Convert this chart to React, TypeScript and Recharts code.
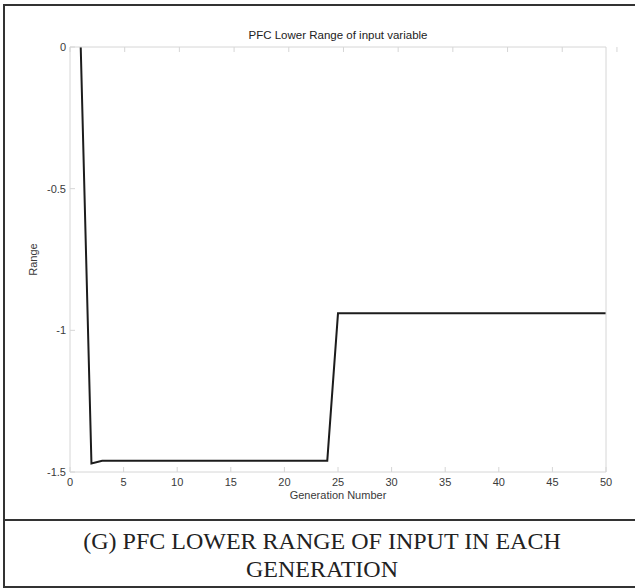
import { LineChart, Line, XAxis, YAxis } from 'recharts'

// generation index and the best lower-range value found in each
const generations = [
  1, 2, 3, 4, 5, 6, 7, 8, 9, 10, 11, 12, 13, 14, 15, 16, 17, 18, 19, 20, 21, 22, 23, 24, 25,
  26, 27, 28, 29, 30, 31, 32, 33, 34, 35, 36, 37, 38, 39, 40, 41, 42, 43, 44, 45, 46, 47, 48, 49, 50,
]
const lowerRange = [
  0, -1.47, -1.46, -1.46, -1.46, -1.46, -1.46, -1.46, -1.46, -1.46, -1.46, -1.46, -1.46, -1.46,
  -1.46, -1.46, -1.46, -1.46, -1.46, -1.46, -1.46, -1.46, -1.46, -1.46, -0.94, -0.94, -0.94, -0.94,
  -0.94, -0.94, -0.94, -0.94, -0.94, -0.94, -0.94, -0.94, -0.94, -0.94, -0.94, -0.94, -0.94, -0.94,
  -0.94, -0.94, -0.94, -0.94, -0.94, -0.94, -0.94, -0.94,
]
const xTicks = [0, 5, 10, 15, 20, 25, 30, 35, 40, 45, 50]
const yTicks = [-1.5, -1, -0.5, 0]

const data = generations.map((g, i) => ({ gen: g, value: lowerRange[i] }))

const AXIS = '#d6d6d6'
const TEXT = '#3a3a3a'
const FONT = '"Liberation Sans", Arial, sans-serif'
const TICK_LEN = 5

const BottomTick = ({ x, y, payload }: any) => (
  <g>
    <line x1={x} y1={y} x2={x} y2={y - TICK_LEN} stroke={AXIS} />
    <text x={x} y={y + 14} textAnchor='middle' fill={TEXT} fontSize={11} fontFamily={FONT}>
      {payload.value}
    </text>
  </g>
)

const TopTick = ({ x, y }: any) => (
  <line x1={x} y1={y} x2={x} y2={y + TICK_LEN} stroke={AXIS} />
)

const LeftTick = ({ x, y, payload }: any) => (
  <g>
    <line x1={x} y1={y} x2={x + TICK_LEN} y2={y} stroke={AXIS} />
    <text x={x - 4} y={y + 4} textAnchor='end' fill={TEXT} fontSize={11} fontFamily={FONT}>
      {payload.value}
    </text>
  </g>
)

const RightTick = ({ x, y }: any) => (
  <line x1={x} y1={y} x2={x - TICK_LEN} y2={y} stroke={AXIS} />
)

export default function App() {
  return (
    <div style={{ position: 'absolute', left: 0, top: 0, width: 635, height: 588, overflow: 'hidden', background: '#fff' }}>
      <LineChart
        width={635}
        height={520}
        data={data}
        margin={{ top: 17, right: 28, bottom: 18, left: 20 }}
        style={{ position: 'absolute', left: 0, top: 0 }}
      >
        <XAxis
          dataKey='gen'
          type='number'
          domain={[0, 50]}
          ticks={xTicks}
          interval={0}
          height={30}
          stroke={AXIS}
          tickSize={0}
          tickMargin={0}
          tick={<BottomTick />}
          label={{ value: 'Generation Number', position: 'insideTop', offset: 19, fill: TEXT, fontSize: 11, fontFamily: FONT }}
        />
        <XAxis
          xAxisId='top'
          orientation='top'
          type='number'
          domain={[0, 50]}
          ticks={xTicks}
          interval={0}
          height={30}
          stroke={AXIS}
          tickSize={0}
          tickMargin={0}
          tick={<TopTick />}
          label={{ value: 'PFC Lower Range of input variable', position: 'insideTop', offset: 14, fill: '#222', fontSize: 11.5, fontFamily: FONT }}
        />
        <YAxis
          type='number'
          domain={[-1.5, 0]}
          ticks={yTicks}
          interval={0}
          width={50}
          stroke={AXIS}
          tickSize={0}
          tickMargin={0}
          tick={<LeftTick />}
          label={{ value: 'Range', angle: -90, position: 'insideLeft', offset: 13, fill: TEXT, fontSize: 11, fontFamily: FONT, style: { textAnchor: 'middle' } }}
        />
        <YAxis
          yAxisId='right'
          orientation='right'
          type='number'
          domain={[-1.5, 0]}
          ticks={yTicks}
          interval={0}
          width={1}
          stroke={AXIS}
          tickSize={0}
          tickMargin={0}
          tick={<RightTick />}
        />
        <Line
          dataKey='value'
          type='linear'
          stroke='#1c1c1c'
          strokeWidth={2}
          dot={false}
          isAnimationActive={false}
        />
      </LineChart>
      {/* surrounding table frame with the caption cell */}
      <div
        style={{
          position: 'absolute',
          left: 3,
          top: 4,
          width: 650,
          height: 580,
          border: '2px solid #333',
          pointerEvents: 'none',
        }}
      />
      <div
        style={{
          position: 'absolute',
          left: 4,
          top: 519,
          width: 636,
          height: 67,
          borderTop: '2px solid #333',
          display: 'flex',
          alignItems: 'center',
          justifyContent: 'center',
          textAlign: 'center',
          fontFamily: '"Liberation Serif", "Times New Roman", serif',
          fontSize: 24,
          lineHeight: '28px',
          color: '#222',
        }}
      >
        <div>
          (G) PFC LOWER RANGE OF INPUT IN EACH
          <br />
          GENERATION
        </div>
      </div>
    </div>
  )
}
